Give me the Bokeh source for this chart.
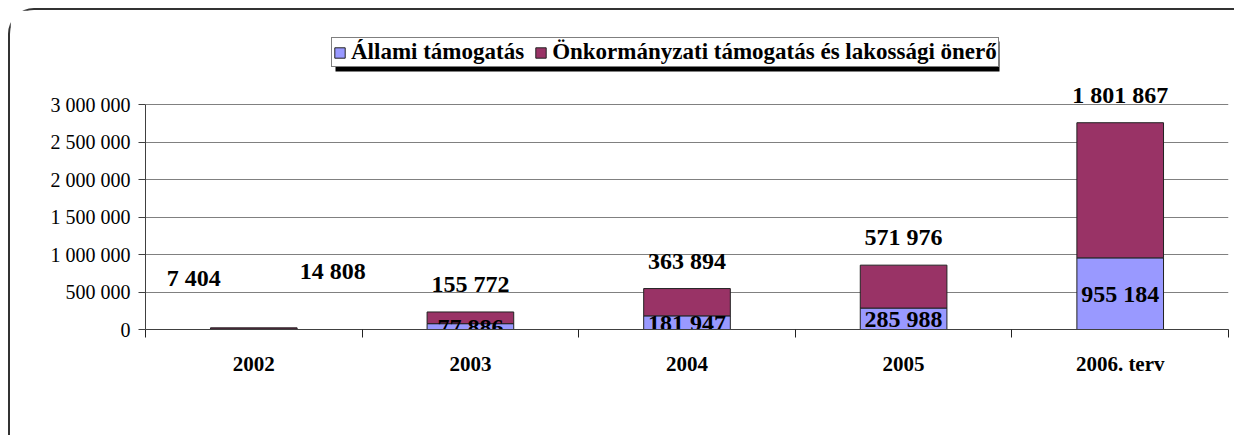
from bokeh.plotting import figure
from bokeh.models import (FixedTicker, Legend, LegendItem, BoxAnnotation,
                          ColumnDataSource, Range1d)
from bokeh.embed import file_html
from bokeh.resources import INLINE
from bokeh.core.properties import value

# ---------------- data ----------------
years = ["2002", "2003", "2004", "2005", "2006. terv"]
allami = [7404, 77886, 181947, 285988, 955184]
onkorm = [14808, 155772, 363894, 571976, 1801867]
series_names = ["Állami támogatás", "Önkormányzati támogatás és lakossági önerő"]
y_ticks = [0, 500000, 1000000, 1500000, 2000000, 2500000, 3000000]
y_tick_labels = ["0", "500 000", "1 000 000", "1 500 000", "2 000 000",
                 "2 500 000", "3 000 000"]

# ---------------- styles ----------------
BLUE = "#9999FF"
RED = "#993366"
FONT = "Liberation Serif"


def fmt(v):
    return f"{v:,}".replace(",", " ")


n = len(years)
centers = [i + 0.5 for i in range(n)]
totals = [a + o for a, o in zip(allami, onkorm)]
small = [t < 50000 for t in totals]

src = ColumnDataSource(dict(x=centers, allami=allami, onkorm=onkorm))

p = figure(width=1226, height=427,
           x_range=Range1d(0, n), y_range=Range1d(0, 4000000),
           output_backend="svg", toolbar_location=None,
           min_border_left=135, min_border_right=8,
           min_border_top=19, min_border_bottom=108)
p.styles = {"margin-left": "8px", "margin-top": "8px",
            "border-top": "2px solid #333333",
            "border-left": "2px solid #333333",
            "border-top-left-radius": "26px"}
p.outline_line_color = None
p.background_fill_color = "white"
p.border_fill_color = "white"

rs = p.vbar_stack(["allami", "onkorm"], x="x", width=0.4, source=src,
                  fill_color=[BLUE, RED], line_color="#222222", line_width=1)

# grid
p.xgrid.visible = False
p.ygrid.grid_line_color = "#808080"
p.ygrid.grid_line_width = 1

# y axis
yax = p.yaxis[0]
yax.ticker = FixedTicker(ticks=y_ticks)
yax.bounds = (0, 3000000)
yax.major_label_overrides = dict(zip(y_ticks, y_tick_labels))
yax.major_tick_out = 7
yax.major_tick_in = 0
yax.minor_tick_out = 0
yax.minor_tick_in = 0
yax.major_label_standoff = 8
yax.axis_line_color = "#404040"
yax.major_tick_line_color = "#404040"
yax.major_label_text_font = FONT
yax.major_label_text_font_size = "20px"
yax.major_label_text_color = "black"

# x axis
xax = p.xaxis[0]
xax.ticker = FixedTicker(ticks=centers, minor_ticks=list(range(n + 1)))
xax.major_label_overrides = dict(zip(centers, years))
xax.major_tick_out = 0
xax.major_tick_in = 0
xax.minor_tick_out = 8
xax.minor_tick_in = 0
xax.minor_tick_line_color = "#222222"
xax.axis_line_color = "#404040"
xax.major_label_standoff = 14
xax.major_label_text_font = FONT
xax.major_label_text_font_style = "bold"
xax.major_label_text_font_size = "21px"
xax.major_label_text_color = "black"

# data labels
blue_y = [t if s else a / 2 for a, t, s in zip(allami, totals, small)]
blue_xo = [-60 if s else 0 for s in small]
blue_yo = [-50 if s else 0 for s in small]
red_xo = [79 if s else 0 for s in small]
red_yo = [-57 if s else -28 for s in small]

lab_src = ColumnDataSource(dict(
    x=centers + centers,
    y=blue_y + totals,
    text=[fmt(v) for v in allami] + [fmt(v) for v in onkorm],
    xo=blue_xo + red_xo,
    yo=blue_yo + red_yo,
))
p.text(x="x", y="y", text="text", source=lab_src, x_offset="xo", y_offset="yo",
       text_align="center", text_baseline="middle",
       text_font=value(FONT), text_font_style="bold", text_font_size="24px",
       text_color="black")

# legend with shadow
lx, ly = 186, 262
lw, lh = 664, 30
shadow = BoxAnnotation(left=lx + 4, right=lx + lw + 4, bottom=ly - 4, top=ly + lh - 4,
                       left_units="screen", right_units="screen",
                       bottom_units="screen", top_units="screen",
                       fill_color="black", fill_alpha=1, line_color=None,
                       level="annotation")
p.add_layout(shadow)

legend = Legend(items=[LegendItem(label=series_names[0], renderers=[rs[0]]),
                       LegendItem(label=series_names[1], renderers=[rs[1]])],
                orientation="horizontal", location=(lx, ly),
                label_text_font=FONT, label_text_font_style="bold",
                label_text_font_size="23px", label_text_color="black",
                glyph_width=13, glyph_height=13, label_standoff=5, spacing=10,
                padding=1, margin=0, label_height=20,
                border_line_color="black", border_line_width=1,
                background_fill_color="white", background_fill_alpha=1)
p.add_layout(legend)

open("out.html", "w").write(file_html(p, INLINE))
